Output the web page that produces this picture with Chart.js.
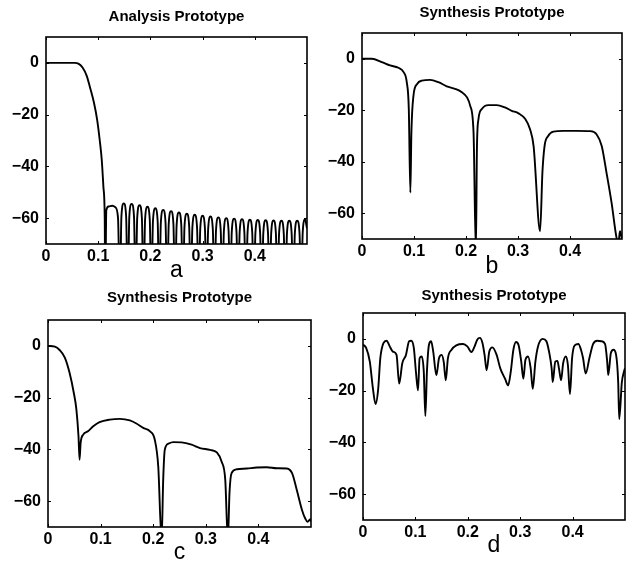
<!DOCTYPE html>
<html><head><meta charset="utf-8">
<script src="https://cdn.jsdelivr.net/npm/chart.js@4.4.1/dist/chart.umd.min.js"></script>
<style>
html,body{margin:0;padding:0;background:#fff;width:633px;height:565px;overflow:hidden;position:relative}
canvas{position:absolute}
</style></head><body>
<canvas id="ca"></canvas><canvas id="cb"></canvas><canvas id="cc"></canvas><canvas id="cd"></canvas>
<script>
const xTicks = [0, 0.1, 0.2, 0.3, 0.4];
const yTicks = [-60, -40, -20, 0];
const titles = ['Analysis Prototype', 'Synthesis Prototype', 'Synthesis Prototype', 'Synthesis Prototype'];
const letters = ['a', 'b', 'c', 'd'];

const analysisFreq = [0, 0.02, 0.04, 0.055, 0.062, 0.07, 0.078, 0.085, 0.092, 0.098, 0.103, 0.107, 0.110, 0.1125, 0.1135,
  0.1155, 0.12, 0.127, 0.133, 0.138,
  0.1415, 0.1445, 0.149, 0.1535, 0.1566, 0.1596, 0.1641, 0.1686, 0.1717, 0.1747, 0.1792, 0.1837,
  0.1868, 0.1898, 0.1943, 0.1988, 0.2019, 0.2049, 0.2094, 0.2139, 0.217, 0.22, 0.2245, 0.229,
  0.2321, 0.2351, 0.2396, 0.2441, 0.2472, 0.2502, 0.2547, 0.2592, 0.2623, 0.2653, 0.2698, 0.2743,
  0.2774, 0.2804, 0.2849, 0.2894, 0.2925, 0.2955, 0.3, 0.3045, 0.3076, 0.3106, 0.3151, 0.3196,
  0.3227, 0.3257, 0.3302, 0.3347, 0.3378, 0.3408, 0.3453, 0.3498, 0.3529, 0.3559, 0.3604, 0.3649,
  0.368, 0.371, 0.3755, 0.38, 0.3831, 0.3861, 0.3906, 0.3951, 0.3982, 0.4012, 0.4057, 0.4102,
  0.4133, 0.4163, 0.4208, 0.4253, 0.4284, 0.4314, 0.4359, 0.4404, 0.4435, 0.4465, 0.451, 0.4555,
  0.4586, 0.4616, 0.4661, 0.4706, 0.4737, 0.4767, 0.4812, 0.4857, 0.4888, 0.4918, 0.4963, 0.5];
const analysisDb = [0, 0, 0, 0, -0.3, -1.8, -5, -10, -15.5, -22, -30, -38, -48, -60, -90,
  -57, -55.5, -55.2, -55.8, -60,
  -90, -59.3, -54.3, -59.3, -90, -59.5, -54.5, -59.5, -90, -60, -55, -60,
  -90, -60.6, -55.6, -60.6, -90, -61.2, -56.2, -61.2, -90, -61.8, -56.8, -61.8,
  -90, -62.3, -57.3, -62.3, -90, -62.8, -57.8, -62.8, -90, -63.3, -58.3, -63.3,
  -90, -63.7, -58.7, -63.7, -90, -64.1, -59.1, -64.1, -90, -64.4, -59.4, -64.4,
  -90, -64.7, -59.7, -64.7, -90, -65, -60, -65, -90, -65.2, -60.2, -65.2,
  -90, -65.4, -60.4, -65.4, -90, -65.6, -60.6, -65.6, -90, -65.7, -60.7, -65.7,
  -90, -65.8, -60.8, -65.8, -90, -65.9, -60.9, -65.9, -90, -66, -61, -66,
  -90, -66, -61, -66, -90, -66, -61, -66, -90, -65.5, -60.5, -64];

const synthBFreq = [0, 0.019, 0.038, 0.054, 0.070, 0.080, 0.086, 0.090, 0.093, 0.095, 0.099, 0.106, 0.115, 0.131, 0.147,
  0.163, 0.179, 0.192, 0.202, 0.208, 0.2145, 0.219, 0.221, 0.224, 0.2305, 0.243, 0.259, 0.275, 0.288, 0.301,
  0.314, 0.323, 0.330, 0.3425, 0.347, 0.351, 0.358, 0.368, 0.387, 0.413, 0.439, 0.451, 0.461, 0.470, 0.480,
  0.489, 0.493, 0.496, 0.5];
const synthBDb = [0, 0, -1.3, -2.6, -3.5, -5.2, -9, -19.5, -52, -28.6, -14.3, -9.8, -8.5, -8.2, -9.1,
  -10.7, -11.7, -13, -15, -18.2, -28.6, -75, -35, -23.4, -19.5, -18, -18, -18.9, -20.2, -21.2,
  -23.4, -27.3, -33.9, -67, -44, -34, -30, -28.3, -28, -28, -28.1, -29.3, -33.9, -44, -56,
  -69, -72, -67, -70];

const synthCFreq = [0, 0.013, 0.022, 0.032, 0.041, 0.049, 0.054, 0.058, 0.060, 0.062, 0.067, 0.076, 0.086, 0.098, 0.1175,
  0.1366, 0.1556, 0.168, 0.181, 0.194, 0.203, 0.2096, 0.216, 0.219, 0.222, 0.229, 0.238, 0.254, 0.273, 0.289,
  0.308, 0.321, 0.330, 0.337, 0.342, 0.345, 0.349, 0.359, 0.378, 0.397, 0.416, 0.435, 0.454, 0.464, 0.473,
  0.483, 0.489, 0.4935, 0.4986, 0.5];
const synthCDb = [0, -0.3, -1.6, -4.5, -10.4, -18.1, -24.6, -35, -44, -37.6, -34.3, -33, -31.1, -29.5, -28.5,
  -28.2, -28.8, -30, -31.7, -33, -36.3, -46.6, -75, -51.8, -40.2, -37.8, -37.2, -37.3, -38.2, -39.5,
  -40.2, -41.2, -44.7, -51.8, -75, -57, -49.2, -47.7, -47.4, -47, -46.9, -47.3, -47.4, -49.2, -55.7,
  -63.5, -66.7, -68, -67, -68];

const synthDFreq = [0, 0.006, 0.013, 0.019, 0.024, 0.029, 0.033, 0.039, 0.045, 0.051, 0.057, 0.064, 0.069, 0.075, 0.082,
  0.088, 0.092, 0.097, 0.101, 0.105, 0.108, 0.112, 0.116, 0.119, 0.122, 0.126, 0.130, 0.134, 0.140, 0.145,
  0.150, 0.154, 0.158, 0.162, 0.169, 0.178, 0.191, 0.199, 0.207, 0.213, 0.218, 0.223, 0.228, 0.232, 0.236,
  0.241, 0.247, 0.255, 0.262, 0.271, 0.277, 0.282, 0.287, 0.292, 0.297, 0.302, 0.306, 0.310, 0.315, 0.320,
  0.324, 0.329, 0.334, 0.343, 0.350, 0.355, 0.360, 0.362, 0.367, 0.371, 0.374, 0.378, 0.382, 0.387, 0.391,
  0.395, 0.399, 0.404, 0.411, 0.416, 0.420, 0.425, 0.432, 0.439, 0.447, 0.455, 0.462, 0.466, 0.468, 0.473,
  0.478, 0.483, 0.487, 0.489, 0.494, 0.498, 0.5];
const synthDDb = [-2.2, -3.5, -8.8, -19.3, -25.2, -19.3, -7.5, -1.6, -0.7, -2.9, -4.9, -6.2, -17.3, -9.4, -6.2,
  -0.9, -0.7, -3.5, -12.7, -19.9, -7.5, -6.8, -12.7, -29.8, -12.7, -2.2, -0.9, -4.9, -14, -7.5,
  -6.2, -8.8, -16, -7.5, -4.2, -2.5, -2.0, -2.9, -5.1, -2.9, -0.3, 0.4, -1.6, -6.2, -12.1,
  -4.9, -3.3, -6.2, -11.4, -15.4, -18, -12.7, -4.2, -1.2, -2.5, -8.8, -15.4, -8.1, -6.8, -11.4,
  -19.3, -8.8, -2.9, 0, -0.9, -4.9, -11.4, -16.7, -8.8, -8.5, -11.4, -16, -9.4, -6.8, -10.1,
  -21.3, -7.5, -2.5, -2.0, -4.2, -7.5, -13.4, -7.5, -2.0, -0.7, -0.9, -2.0, -8.8, -14, -5.5,
  -4.2, -6.2, -16.7, -31, -16.7, -12.7, -11.4];

const series = [[analysisFreq, analysisDb], [synthBFreq, synthBDb], [synthCFreq, synthCDb], [synthDFreq, synthDDb]];

const panels = [
  {id: 'ca', L: 46, R: 307, T: 37, B: 244, titleY: 17, letterY: 271},
  {id: 'cb', L: 362, R: 622, T: 33, B: 239, titleY: 13, letterY: 267},
  {id: 'cc', L: 48, R: 311, T: 320, B: 527, titleY: 298, letterY: 553},
  {id: 'cd', L: 363, R: 625, T: 313, B: 520, titleY: 296, letterY: 546}
];

const FONT = "'Liberation Sans', Arial, Helvetica, sans-serif";

const framePlugin = {
  id: 'frame',
  afterDatasetsDraw(chart) {
    const {ctx, chartArea: a} = chart;
    const xs = chart.scales.x, ys = chart.scales.y;
    ctx.save();
    ctx.strokeStyle = '#000';
    ctx.lineWidth = 1.6;
    ctx.strokeRect(a.left, a.top, a.right - a.left, a.bottom - a.top);
    ctx.lineWidth = 1;
    const t = 3;
    ctx.beginPath();
    xs.ticks.forEach(tk => {
      const px = Math.round(xs.getPixelForValue(tk.value)) + 0.5;
      ctx.moveTo(px, a.bottom); ctx.lineTo(px, a.bottom - t);
      ctx.moveTo(px, a.top); ctx.lineTo(px, a.top + t);
    });
    ys.ticks.forEach(tk => {
      const py = Math.round(ys.getPixelForValue(tk.value)) + 0.5;
      ctx.moveTo(a.left, py); ctx.lineTo(a.left + t, py);
      ctx.moveTo(a.right, py); ctx.lineTo(a.right - t, py);
    });
    ctx.stroke();
    ctx.restore();
  }
};

panels.forEach((p, i) => {
  const cv = document.getElementById(p.id);
  const left = p.L - 46, top = p.titleY - 9;
  const w = (p.R - p.L) + 46 + 4;
  const h = p.letterY + 11 - top;
  cv.width = w; cv.height = h;
  cv.style.left = left + 'px'; cv.style.top = top + 'px';
  cv.style.width = w + 'px'; cv.style.height = h + 'px';
  const [fx, fy] = series[i];
  new Chart(cv, {
    type: 'line',
    data: {
      datasets: [{
        data: fx.map((x, k) => ({x: x, y: fy[k]})),
        borderColor: '#000',
        borderWidth: 1.9,
        pointRadius: 0,
        cubicInterpolationMode: 'monotone',
        fill: false
      }]
    },
    options: {
      responsive: false,
      animation: false,
      devicePixelRatio: 1,
      layout: {padding: {left: 0, right: 4, top: 0, bottom: 0}},
      plugins: {
        legend: {display: false},
        tooltip: {enabled: false},
        title: {
          display: true, text: titles[i], fullSize: false, color: '#000',
          font: {family: FONT, size: 15, weight: 'bold', lineHeight: 1.2},
          padding: {top: 0, bottom: p.T - p.titleY - 9}
        }
      },
      scales: {
        x: {
          type: 'linear', min: 0, max: 0.5,
          afterBuildTicks: s => { s.ticks = xTicks.map(v => ({value: v})); },
          afterFit: s => { s.height = p.letterY + 11 - p.B; },
          grid: {display: false, drawTicks: false},
          border: {display: false},
          ticks: {
            color: '#000', padding: 3, maxRotation: 0, autoSkip: false,
            font: {family: FONT, size: 16, weight: 'bold'},
            callback: v => String(v)
          },
          title: {display: true, text: letters[i], color: '#000', font: {family: FONT, size: 23, lineHeight: 1}, padding: 0}
        },
        y: {
          min: -70, max: 10,
          afterBuildTicks: s => { s.ticks = yTicks.map(v => ({value: v})); },
          afterFit: s => { s.width = 46; },
          grid: {display: false, drawTicks: false},
          border: {display: false},
          ticks: {
            color: '#000', padding: 7,
            font: {family: FONT, size: 16, weight: 'bold'},
            callback: v => v < 0 ? '\u2212' + (-v) : String(v)
          }
        }
      }
    },
    plugins: [framePlugin]
  });
});
</script>
</body></html>
